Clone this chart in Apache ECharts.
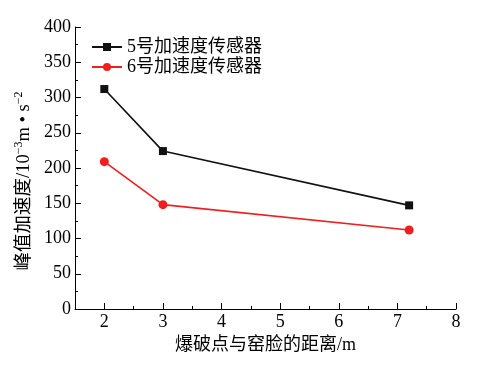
<!DOCTYPE html>
<html><head><meta charset="utf-8">
<script src="https://cdn.jsdelivr.net/npm/echarts@6/dist/echarts.min.js"></script>
<style>html,body{margin:0;padding:0;background:#fff}#c{width:496px;height:370px}</style>
</head><body><div id="c"></div>
<script>
const distances = [2, 3, 7.2];
const sensor5 = [312, 224, 147];
const sensor6 = [209, 148, 112];
const seriesNames = ['5号加速度传感器', '6号加速度传感器'];
const xTicks = [2, 3, 4, 5, 6, 7, 8];
const xMinorTicks = [2.5, 3.5, 4.5, 5.5, 6.5, 7.5];
const xName = '爆破点与窑脸的距离/m';

const font = '"Liberation Serif", "Noto Sans CJK SC", serif';
const chart = echarts.init(document.getElementById('c'));
const mk = (vals) => distances.map((d, i) => [d, vals[i]]);
chart.setOption({
  animation: false,
  grid: {left: 75, right: 40, top: 27, bottom: 61},
  legend: {
    orient: 'vertical', left: 86, top: 33, itemGap: 2, itemWidth: 30, itemHeight: 10,
    textStyle: {fontFamily: font, fontSize: 18, color: '#000'},
    data: seriesNames
  },
  xAxis: [{
    type: 'value', min: 1.5, max: 8,
    axisLine: {lineStyle: {color: '#000', width: 1}},
    axisTick: {inside: true, length: 6, customValues: xTicks, lineStyle: {color: '#000'}},
    axisLabel: {customValues: xTicks, fontFamily: font, fontSize: 18, color: '#000', margin: 4},
    splitLine: {show: false},
    name: xName, nameLocation: 'middle', nameGap: 25,
    nameTextStyle: {fontFamily: font, fontSize: 18, color: '#000'}
  }, {
    type: 'value', min: 1.5, max: 8, position: 'bottom',
    axisLine: {show: false},
    axisTick: {inside: true, length: 3, customValues: xMinorTicks, lineStyle: {color: '#000'}},
    axisLabel: {show: false},
    splitLine: {show: false}
  }],
  yAxis: {
    type: 'value', min: 0, max: 400, interval: 50,
    axisLine: {show: true, lineStyle: {color: '#000', width: 1}},
    axisTick: {show: true, inside: true, length: 6, lineStyle: {color: '#000'}},
    minorTick: {show: true, splitNumber: 2, length: 3, lineStyle: {color: '#000'}},
    axisLabel: {fontFamily: font, fontSize: 18, color: '#000', margin: 4},
    splitLine: {show: false},
    name: '{n|峰值加速度/10}{s|−3}{n|m • s}{s|−2}',
    nameLocation: 'middle', nameGap: 37, nameRotate: 90,
    nameTextStyle: {
      fontFamily: font, fontSize: 18, color: '#000', padding: [0, 26, 0, 0],
      rich: {
        n: {fontFamily: font, fontSize: 18.5, color: '#000', lineHeight: 20, verticalAlign: 'bottom'},
        s: {fontFamily: font, fontSize: 12, color: '#000', lineHeight: 20, verticalAlign: 'top'}
      }
    }
  },
  series: [{
    name: seriesNames[0], type: 'line', data: mk(sensor5),
    symbol: 'rect', symbolSize: 8,
    lineStyle: {color: '#111', width: 1.6}, itemStyle: {color: '#111'}
  }, {
    name: seriesNames[1], type: 'line', data: mk(sensor6),
    symbol: 'circle', symbolSize: 9,
    lineStyle: {color: '#f21d1d', width: 1.6}, itemStyle: {color: '#f21d1d'}
  }]
});
</script></body></html>
